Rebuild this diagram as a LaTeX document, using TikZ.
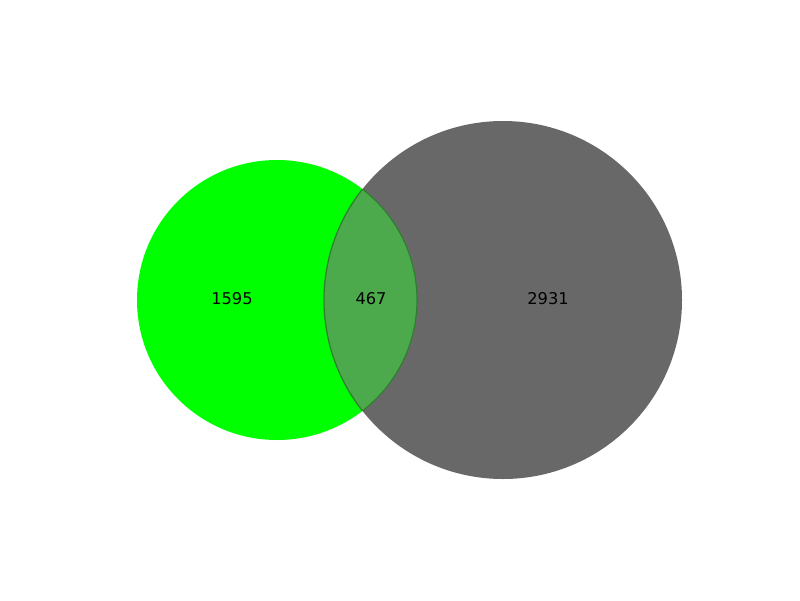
\documentclass[tikz,border=0pt]{standalone}
\usepackage{fontspec}
\setmainfont{DejaVu Sans}
\definecolor{mengeA}{HTML}{00FF00}
\definecolor{mengeB}{HTML}{686868}
\definecolor{schnitt}{HTML}{4CAA4C}
\definecolor{schnittrand}{HTML}{2E7F2E}
\tikzset{zahl/.style={font=\fontsize{16.2}{19}\selectfont, text=black}}
\begin{document}
\begin{tikzpicture}[x=1pt,y=-1pt]
    \useasboundingbox (0,0) rectangle (800,600);
    % Mengen:
    \fill[mengeA] (277,300) circle (140); % linker Kreis
    \fill[mengeB] (503,300) circle (179); % rechter Kreis
    % Schnittmenge:
    \begin{scope}
        \clip (277,300) circle (140);
        \fill[schnitt] (503,300) circle (179);
    \end{scope}
    \begin{scope}
        \clip (277,300) circle (140);
        \draw[schnittrand, line width=1.2] (503,300) circle (179);
    \end{scope}
    \begin{scope}
        \clip (503,300) circle (179);
        \draw[schnittrand, line width=1.2] (277,300) circle (140);
    \end{scope}
    % Zahlen:
    \node[zahl] (nurA) at (232,299) {1595};
    \node[zahl] (beide) at (371,299) {467};
    \node[zahl] (nurB) at (548,299) {2931};
\end{tikzpicture}
\end{document}
